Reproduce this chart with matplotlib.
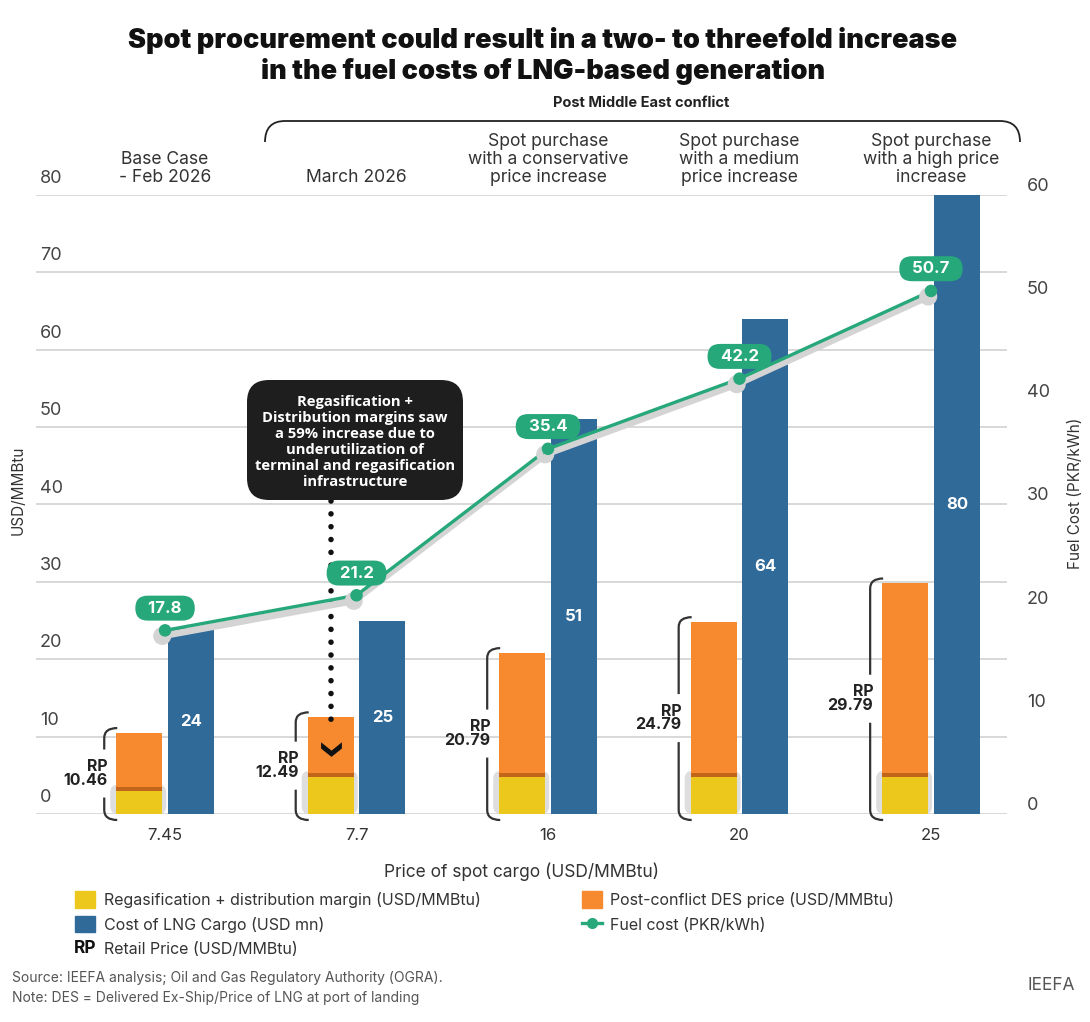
import numpy as np
import matplotlib
matplotlib.use("Agg")
import matplotlib.pyplot as plt
from matplotlib.path import Path
from matplotlib.patches import PathPatch, FancyBboxPatch, Patch
from matplotlib.lines import Line2D
from matplotlib.text import Text
from matplotlib.legend_handler import HandlerBase
from matplotlib.transforms import Affine2D
import matplotlib.patheffects as pe

plt.rcParams["font.family"] = ["Inter", "DejaVu Sans"]

# data
spot_labels = ["7.45", "7.7", "16", "20", "25"]
scenarios = ["Base Case\n- Feb 2026", "March 2026",
             "Spot purchase\nwith a conservative\nprice increase",
             "Spot purchase\nwith a medium\nprice increase",
             "Spot purchase\nwith a high price\nincrease"]
des_price = [7.45, 7.7, 16, 20, 25]
regas_margin = [3.01, 4.79, 4.79, 4.79, 4.79]
retail_price = [10.46, 12.49, 20.79, 24.79, 29.79]
cargo_cost = [24, 25, 51, 64, 80]
fuel_cost = [17.8, 21.2, 35.4, 42.2, 50.7]
left_ticks = [0, 10, 20, 30, 40, 50, 60, 70, 80]
right_ticks = [0, 10, 20, 30, 40, 50, 60]

YELLOW = "#ebc81b"
ORANGE = "#f7892e"
BAND = "#c0651a"
BLUE = "#306a99"
GREEN = "#27a87a"
GRID = "#d2d2d2"
TXT = "#333333"

W, H = 1090, 1022
fig = plt.figure(figsize=(W / 100, H / 100), dpi=100)
PX = Affine2D().scale(1 / W, -1 / H).translate(0, 1) + fig.transFigure

ax = fig.add_axes([36 / W, 1 - 814 / H, (1007 - 36) / W, (814 - 195) / H])
ax.set_xlim(-0.674, 4.397)
ax.set_ylim(0, 80)
for s in ax.spines.values():
    s.set_visible(False)
ax.set_yticks(left_ticks)
ax.grid(axis="y", color=GRID, lw=1.2)
ax.set_axisbelow(True)
ax.tick_params(axis="y", length=0, labelleft=False)
ax.set_xticks(range(len(spot_labels)))
ax.set_xticklabels(spot_labels, fontsize=12, color=TXT)
ax.tick_params(axis="x", length=0, pad=10)
ax.set_xlabel("Price of spot cargo (USD/MMBtu)", fontsize=12.5, color=TXT, labelpad=14)

x = np.arange(len(spot_labels))
bw = 0.24
xo = x - 0.135
xb = x + 0.135
xu = 1 / 191.5   # data x per pixel
yu = 80 / 619    # data y per pixel

# grey highlight behind the margin segment
for xi, m in zip(xo, regas_margin):
    ax.add_patch(FancyBboxPatch((xi - bw / 2 - 6 * xu, 0), bw + 10 * xu, m + 6 * yu,
                                boxstyle="round,pad=0,rounding_size=0.04",
                                mutation_aspect=yu / xu, fc="#dedede", ec="none",
                                zorder=1.5, clip_on=False))

ax.bar(xo, regas_margin, bw, color=YELLOW, zorder=2)
ax.bar(xo, des_price, bw, bottom=regas_margin, color=ORANGE, zorder=2)
ax.bar(xo, [0.5] * len(x), bw, bottom=regas_margin, color=BAND, zorder=2.1)
ax.bar(xb, cargo_cost, bw, color=BLUE, zorder=2)

for xi, v in zip(xb, cargo_cost):
    ax.text(xi, v / 2, f"{v}", ha="center", va="center", color="white",
            fontsize=12, fontweight="bold", zorder=3)

# retail price brackets
for xi, rp in zip(xo, retail_price):
    bx = xi - bw / 2 - 12 * xu
    ex = xi - bw / 2 + 1 * xu
    top = rp + 5 * yu
    bot = -6 * yu
    mid = rp / 2
    gap = 24 * yu
    r = 10
    up = Path([(ex, top), (bx, top), (bx, top - r * yu), (bx, mid + gap)],
              [Path.MOVETO, Path.CURVE3, Path.CURVE3, Path.LINETO])
    lo = Path([(bx, mid - gap), (bx, bot + r * yu), (bx, bot), (ex, bot)],
              [Path.MOVETO, Path.LINETO, Path.CURVE3, Path.CURVE3])
    for p in (up, lo):
        ax.add_patch(PathPatch(p, fc="none", ec=TXT, lw=1.6, clip_on=False, zorder=3))
    ax.text(bx + 3 * xu, mid, f"RP\n{rp:.2f}", ha="right", va="center", fontsize=11.5,
            fontweight="bold", color="#222222", linespacing=0.9, zorder=3)

# left axis labels above gridlines
for t in left_ticks:
    ax.text(4 * xu - 0.674, t + 8 * yu, f"{t}", ha="left", va="bottom",
            fontsize=13, color="#444444")

# fuel cost line on right axis
ax2 = ax.twinx()
ax2.set_ylim(0, 60)
ax2.set_yticks([])
for s in ax2.spines.values():
    s.set_visible(False)
for t in right_ticks:
    ax2.text(4.397 + 20 * xu, t, f"{t}", ha="left", va="bottom", fontsize=13,
             color="#444444")
ax2.plot(x, fuel_cost, color=GREEN, lw=2.4, marker="o", ms=8, zorder=4,
         path_effects=[pe.SimpleLineShadow(offset=(-2, -4), shadow_color="#d4d4d4",
                                           alpha=1.0, linewidth=5), pe.Normal()])
for xi, v in zip(x, fuel_cost):
    ax2.annotate(f"  {v}  ", (xi, v), xytext=(0, 16), textcoords="offset points",
                 ha="center", va="center", color="white", fontsize=12,
                 fontweight="bold", zorder=5,
                 bbox=dict(boxstyle="round,pad=0.3,rounding_size=0.75", fc=GREEN,
                           ec="none"))

fig.text(18, 490, "USD/MMBtu", transform=PX, rotation=90, ha="center", va="center",
         fontsize=11, color=TXT)
fig.text(1075, 493, "Fuel Cost (PKR/kWh)", transform=PX, rotation=90, ha="center",
         va="center", fontsize=11, color=TXT)

# scenario headers
for xi, s in zip(x, scenarios):
    ax.text(xi, 1.014, s, transform=ax.get_xaxis_transform(), ha="center",
            va="bottom", fontsize=12.6, color=TXT, linespacing=1.1)

# title and bracket
fig.text(543, 56, "Spot procurement could result in a two- to threefold increase\n"
         "in the fuel costs of LNG-based generation", transform=PX, ha="center",
         va="center", fontsize=19.5, fontweight="black", color="#111111", linespacing=1.22)
fig.text(641, 103, "Post Middle East conflict", transform=PX, ha="center", va="center",
         fontsize=10.5, fontweight="bold", color="#222222")
brace = Path([(265, 142), (265, 121), (285, 121), (1000, 121), (1020, 121), (1020, 142)],
             [Path.MOVETO, Path.CURVE3, Path.CURVE3, Path.LINETO, Path.CURVE3, Path.CURVE3])
fig.patches.append(PathPatch(brace, transform=PX, fc="none", ec="#222222", lw=1.3))

# callout
box = FancyBboxPatch((247, 380), 216, 120, boxstyle="round,pad=0,rounding_size=22",
                     transform=PX, fc="#1e1e1e", ec="none", zorder=6)
fig.patches.append(box)
fig.text(355, 442, "Regasification +\nDistribution margins saw\na 59% increase due to\n"
         "underutilization of\nterminal and regasification\ninfrastructure",
         transform=PX, ha="center", va="center", fontsize=10.6, fontweight="bold",
         color="white", family=["Open Sans", "DejaVu Sans"], linespacing=1.17, zorder=7)
ax.plot([xo[1], xo[1]], [40.5, 11.2], color="#111111", lw=4,
        linestyle=(0, (0.01, 2.3)), solid_capstyle="round", dash_capstyle="round",
        zorder=5, clip_on=False)
chev = Path([(-1, 0.5), (0, -0.3), (1, 0.5), (1, -0.1), (0, -0.9), (-1, -0.1), (-1, 0.5)],
            [Path.MOVETO] + [Path.LINETO] * 5 + [Path.CLOSEPOLY])
ax.plot([xo[1]], [8.6], marker=chev, ms=15, color="#111111", mec="none", zorder=5)


class RPHandler(HandlerBase):
    def create_artists(self, legend, orig_handle, xdescent, ydescent, width, height,
                       fontsize, trans):
        t = Text(width / 2 - xdescent, height / 2 - ydescent, "RP", ha="center",
                 va="center", fontsize=12.5, fontweight="bold", color="#111111")
        t.set_transform(trans)
        return [t]


rp_handle = Patch(visible=False)
handles = [Patch(color=YELLOW), Patch(color=BLUE), rp_handle, Patch(color=ORANGE),
           Line2D([], [], color=GREEN, lw=2.4, marker="o", ms=7)]
labels = ["Regasification + distribution margin (USD/MMBtu)", "Cost of LNG Cargo (USD mn)",
          "Retail Price (USD/MMBtu)", "Post-conflict DES price (USD/MMBtu)",
          "Fuel cost (PKR/kWh)"]
fig.legend(handles, labels, ncol=2, loc="upper left", bbox_to_anchor=(61 / W, 1 - 877 / H),
           frameon=False, fontsize=11.5, labelcolor=TXT, handlelength=1.25, handleheight=1.2,
           handletextpad=0.55, columnspacing=6.3, labelspacing=0.5,
           handler_map={rp_handle: RPHandler()})

fig.text(12, 978, "Source: IEEFA analysis; Oil and Gas Regulatory Authority (OGRA).",
         transform=PX, ha="left", va="center", fontsize=10, color="#555555")
fig.text(12, 998, "Note: DES = Delivered Ex-Ship/Price of LNG at port of landing",
         transform=PX, ha="left", va="center", fontsize=10, color="#555555")
fig.text(1075, 985, "IEEFA", transform=PX, ha="right", va="center", fontsize=12.5,
         color="#555555")

fig.savefig("out.png", dpi=100)
